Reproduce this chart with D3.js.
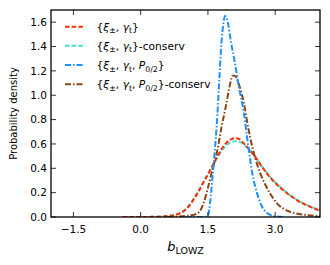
<!DOCTYPE html>
<html>
<head>
<meta charset="utf-8">
<script src="https://cdn.jsdelivr.net/npm/d3@7"></script>
<style>
  body { margin: 0; background: #fff; }
  svg { font-family: "DejaVu Sans", sans-serif; }
</style>
</head>
<body>
<script>
// x grid of each curve and the densities
const xRed = [-0.4, -0.2, 0.0, 0.2, 0.4, 0.5, 0.6, 0.7, 0.8, 0.9, 1.0, 1.1, 1.2, 1.3, 1.4, 1.5, 1.6, 1.7, 1.8, 1.9, 2.0, 2.1, 2.2, 2.3, 2.4, 2.5, 2.6, 2.7, 2.8, 2.9, 3.0, 3.1, 3.2, 3.3, 3.4, 3.5, 3.6, 3.7, 3.8, 3.9, 4.0];
const yRed = [0, 0, 0.0, 0.001, 0.003, 0.005, 0.008, 0.012, 0.02, 0.035, 0.06, 0.10, 0.155, 0.215, 0.285, 0.35, 0.42, 0.49, 0.555, 0.605, 0.635, 0.648, 0.64, 0.605, 0.565, 0.52, 0.47, 0.415, 0.365, 0.32, 0.28, 0.245, 0.215, 0.185, 0.16, 0.135, 0.115, 0.097, 0.081, 0.066, 0.053];
const yCyan = [0, 0, 0.0, 0.001, 0.003, 0.005, 0.009, 0.014, 0.022, 0.038, 0.064, 0.105, 0.16, 0.22, 0.285, 0.35, 0.415, 0.48, 0.54, 0.585, 0.612, 0.622, 0.618, 0.595, 0.562, 0.52, 0.472, 0.42, 0.37, 0.325, 0.285, 0.25, 0.218, 0.188, 0.162, 0.138, 0.118, 0.1, 0.084, 0.069, 0.056];

const xBlue = [1.0, 1.3, 1.45, 1.5, 1.55, 1.6, 1.65, 1.7, 1.75, 1.8, 1.85, 1.88, 1.92, 1.96, 2.0, 2.1, 2.2, 2.3, 2.4, 2.5, 2.6, 2.7, 2.8, 2.9, 3.0, 3.2];
const yBlue = [0, 0, 0.002, 0.01, 0.12, 0.32, 0.53, 0.77, 1.1, 1.42, 1.6, 1.65, 1.63, 1.57, 1.47, 1.27, 1.05, 0.86, 0.58, 0.34, 0.19, 0.09, 0.04, 0.015, 0.005, 0];

const xBrown = [0.6, 0.8, 1.0, 1.1, 1.2, 1.3, 1.4, 1.5, 1.6, 1.7, 1.8, 1.9, 2.0, 2.05, 2.1, 2.2, 2.3, 2.4, 2.5, 2.6, 2.7, 2.8, 2.9, 3.0, 3.1, 3.2, 3.3, 3.4, 3.5, 3.6, 3.8, 4.0];
const yBrown = [0, 0.003, 0.008, 0.013, 0.02, 0.04, 0.11, 0.24, 0.39, 0.53, 0.73, 0.91, 1.1, 1.16, 1.16, 1.08, 0.94, 0.73, 0.56, 0.43, 0.33, 0.25, 0.185, 0.13, 0.09, 0.065, 0.047, 0.035, 0.026, 0.02, 0.012, 0.008];

const xTicks = [-1.5, 0.0, 1.5, 3.0];
const yTicks = [0.0, 0.2, 0.4, 0.6, 0.8, 1.0, 1.2, 1.4, 1.6];

const width = 330, height = 265;
const margin = { top: 10, right: 10, bottom: 48, left: 51 };

const svg = d3.select('body').append('svg')
  .attr('width', width)
  .attr('height', height);

const x = d3.scaleLinear().domain([-2, 4]).range([margin.left, width - margin.right]);
const y = d3.scaleLinear().domain([0, 1.7]).range([height - margin.bottom, margin.top]);

svg.append('clipPath').attr('id', 'clip').append('rect')
  .attr('x', margin.left).attr('y', margin.top - 2)
  .attr('width', width - margin.left - margin.right)
  .attr('height', height - margin.top - margin.bottom + 2);

const series = [
  { xs: xRed, ys: yRed, color: '#ff2d00', dash: '4.5,2.2' },
  { xs: xRed, ys: yCyan, color: '#40e0d0', dash: '4.5,2.2' },
  { xs: xBlue, ys: yBlue, color: '#1e90ff', dash: '6,2,1.5,2' },
  { xs: xBrown, ys: yBrown, color: '#8b4513', dash: '6,2,1.5,2' }
];

const line = d3.line().curve(d3.curveMonotoneX);

// curves (cyan drawn under red)
const order = [1, 0, 3, 2];
const plot = svg.append('g').attr('clip-path', 'url(#clip)');
order.forEach(i => {
  const s = series[i];
  plot.append('path')
    .attr('d', line(s.xs.map((v, k) => [x(v), y(s.ys[k])])))
    .attr('fill', 'none')
    .attr('stroke', s.color)
    .attr('stroke-width', 2)
    .attr('stroke-dasharray', s.dash);
});

// frame
const x0 = x(-2), x1 = x(4), y0 = y(0), y1 = y(1.7);
svg.append('rect')
  .attr('x', x0).attr('y', y1)
  .attr('width', x1 - x0).attr('height', y0 - y1)
  .attr('fill', 'none').attr('stroke', '#000').attr('stroke-width', 1.3);

// ticks inward on all four sides
const tk = svg.append('g').attr('stroke', '#000').attr('stroke-width', 0.8);
xTicks.forEach(t => {
  tk.append('line').attr('x1', x(t)).attr('x2', x(t)).attr('y1', y0).attr('y2', y0 - 5);
  tk.append('line').attr('x1', x(t)).attr('x2', x(t)).attr('y1', y1).attr('y2', y1 + 5);
});
yTicks.forEach(t => {
  tk.append('line').attr('x1', x0).attr('x2', x0 + 5).attr('y1', y(t)).attr('y2', y(t));
  tk.append('line').attr('x1', x1).attr('x2', x1 - 5).attr('y1', y(t)).attr('y2', y(t));
});

const fmt = d3.format('.1f');
svg.append('g').selectAll('text').data(xTicks).join('text')
  .attr('x', d => x(d)).attr('y', y0 + 16)
  .attr('text-anchor', 'middle')
  .attr('font-size', 10.5)
  .text(d => fmt(d).replace('-', '\u2212'));
svg.append('g').selectAll('text').data(yTicks).join('text')
  .attr('x', x0 - 4).attr('y', d => y(d) + 3.8)
  .attr('text-anchor', 'end')
  .attr('font-size', 10.5)
  .text(d => fmt(d));

// axis labels
svg.append('text')
  .attr('transform', `translate(17,${(y0 + y1) / 2}) rotate(-90)`)
  .attr('text-anchor', 'middle')
  .attr('font-size', 10)
  .text('Probability density');

const xl = svg.append('text')
  .attr('x', (x0 + x1) / 2).attr('y', 251)
  .attr('text-anchor', 'middle')
  .attr('font-size', 13);
xl.append('tspan').attr('font-style', 'italic').text('b');
xl.append('tspan').attr('font-size', 9.5).attr('dy', 3).text('LOWZ');

// legend
const leg = svg.append('g');
const rowY = [26.7, 45.8, 65, 84.2];
function label(t, parts) {
  parts.forEach(p => {
    const s = t.append('tspan').text(p[0]);
    if (p[1] === 'i') s.attr('font-style', 'italic');
    if (p[1] === 'sub') s.attr('font-size', 7.8).attr('dy', 2.5);
    if (p[1] === 'up') s.attr('dy', -2.5);
  });
}
const labels = [
  [['{'], ['ξ', 'i'], ['±', 'sub'], [', ', 'up'], ['γ', 'i'], ['t', 'sub'], ['}', 'up']],
  [['{'], ['ξ', 'i'], ['±', 'sub'], [', ', 'up'], ['γ', 'i'], ['t', 'sub'], ['}-conserv', 'up']],
  [['{'], ['ξ', 'i'], ['±', 'sub'], [', ', 'up'], ['γ', 'i'], ['t', 'sub'], [', ', 'up'], ['P', 'i'], ['0/2', 'sub'], ['}', 'up']],
  [['{'], ['ξ', 'i'], ['±', 'sub'], [', ', 'up'], ['γ', 'i'], ['t', 'sub'], [', ', 'up'], ['P', 'i'], ['0/2', 'sub'], ['}-conserv', 'up']]
];
series.forEach((s, i) => {
  leg.append('line')
    .attr('x1', 65).attr('x2', 84)
    .attr('y1', rowY[i]).attr('y2', rowY[i])
    .attr('stroke', s.color).attr('stroke-width', 2)
    .attr('stroke-dasharray', s.dash);
  const t = leg.append('text')
    .attr('x', 96.5).attr('y', rowY[i] + 4)
    .attr('font-size', 10.7);
  label(t, labels[i]);
});
</script>
</body>
</html>
